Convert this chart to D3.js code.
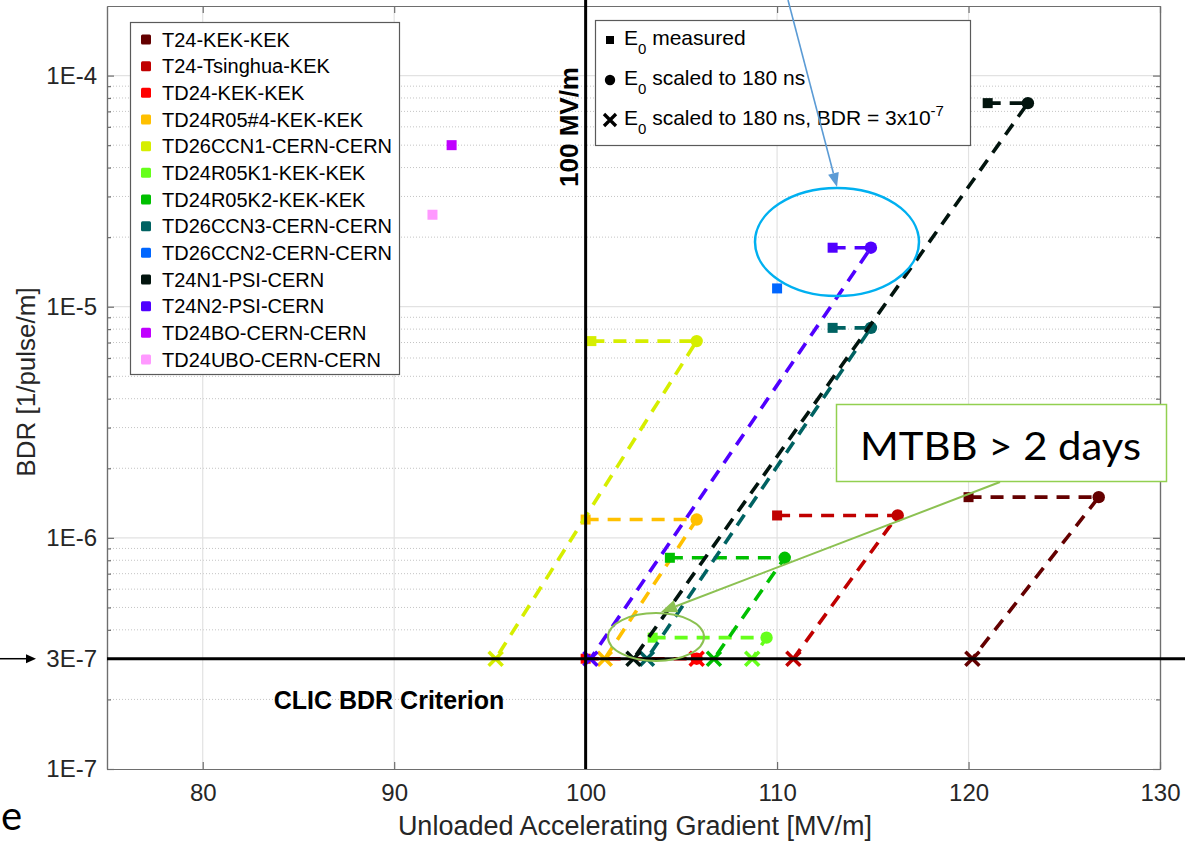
<!DOCTYPE html>
<html><head><meta charset="utf-8">
<script src="https://cdn.jsdelivr.net/npm/d3@7"></script>
<style>
body{margin:0;background:#fff;}
svg{display:block;font-family:"Liberation Sans",Arial,Helvetica,sans-serif;}
</style>
</head><body>
<svg id="c" width="1185" height="843"></svg>
<script>
// ---------------- data ----------------
const names = ["T24-KEK-KEK","T24-Tsinghua-KEK","TD24-KEK-KEK","TD24R05#4-KEK-KEK","TD26CCN1-CERN-CERN",
  "TD24R05K1-KEK-KEK","TD24R05K2-KEK-KEK","TD26CCN3-CERN-CERN","TD26CCN2-CERN-CERN","T24N1-PSI-CERN",
  "T24N2-PSI-CERN","TD24BO-CERN-CERN","TD24UBO-CERN-CERN"];
const colors = ["#640000","#c00000","#ff0000","#ffc000","#d6ee00","#66ff1a","#00c000","#006262",
  "#0066ff","#02140e","#5000ff","#c000ff","#ff99ff"];
const measuredE   = [120.0, 110.0, 100.0, 100.0, 100.3, 103.5, 104.4, 112.9, 110.0, 121.0, 112.9, 93.0, 92.0];
const measuredBDR = [1.5e-6, 1.25e-6, 3e-7, 1.2e-6, 7.1e-6, 3.7e-7, 8.2e-7, 8.1e-6, 1.2e-5, 7.6e-5, 1.8e-5, 5e-5, 2.5e-5];
const scaledE     = [126.8, 116.3, 105.8, 105.8, 105.8, 109.45, 110.4, 114.9, null, 123.1, 114.9, null, null];
const criterionE  = [120.2, 110.85, 105.8, 101.0, 95.3, 108.7, 106.7, 103.2, null, 102.5, 100.25, null, null];
const criterionBDR = 3e-7;
const gradientLine = 100;

const xTicks = [80, 90, 100, 110, 120, 130];
const xGridTicks = [80, 90, 110, 120];
const yTicks = [1e-7, 3e-7, 1e-6, 1e-5, 1e-4];
const yTickLabels = ["1E-7", "3E-7", "1E-6", "1E-5", "1E-4"];
const yMajorGrid = [1e-6, 1e-5, 1e-4];
const markerLegendLabels = [" measured", " scaled to 180 ns", " scaled to 180 ns, BDR = 3x10"];

// ---------------- setup ----------------
const svg = d3.select("#c");
const L = 107, R = 1160, T = 6, B = 769;
const x = d3.scaleLinear().domain([75, 130]).range([L, R]);
const y = d3.scaleLog().domain([1e-7, 2e-4]).range([B, T]);
const axisCol = "#6e6e6e", textCol = "#262626";

const minorVals = [];
for (let e = -7; e <= -4; e++) for (let k = 2; k <= 9; k++) {
  const v = k * Math.pow(10, e);
  if (v < 1.99e-4) minorVals.push(v);
}

// grid
const grid = svg.append("g");
grid.selectAll(".ym").data(minorVals).join("line")
  .attr("x1", L).attr("x2", R).attr("y1", d => y(d)).attr("y2", d => y(d))
  .attr("stroke", "#c4c4c4").attr("stroke-width", 1).attr("stroke-dasharray", "1,2");
grid.selectAll(".yM").data(yMajorGrid).join("line")
  .attr("x1", L).attr("x2", R).attr("y1", d => y(d)).attr("y2", d => y(d))
  .attr("stroke", "#e2e2e2").attr("stroke-width", 1.2);
grid.selectAll(".xg").data(xGridTicks).join("line")
  .attr("x1", d => x(d)).attr("x2", d => x(d)).attr("y1", T).attr("y2", B)
  .attr("stroke", "#e2e2e2").attr("stroke-width", 1.2);

// axes
function styleAxis(g) {
  g.selectAll("path,line").attr("stroke", axisCol).attr("stroke-width", 1.2);
  g.selectAll("text").attr("fill", textCol).attr("font-size", 24).attr("font-family", "Liberation Sans, Arial, sans-serif");
}
svg.append("g").attr("transform", `translate(0,${B})`)
  .call(d3.axisBottom(x).tickValues(xTicks).tickSizeInner(-7).tickSizeOuter(0).tickPadding(15).tickFormat(d3.format("d")))
  .call(styleAxis);
svg.append("g").attr("transform", `translate(0,${T})`)
  .call(d3.axisTop(x).tickValues(xTicks).tickSizeInner(-7).tickSizeOuter(0).tickFormat(""))
  .call(styleAxis);
svg.append("g").attr("transform", `translate(${L},0)`)
  .call(d3.axisLeft(y).tickValues(yTicks).tickSizeInner(-7).tickSizeOuter(0).tickPadding(10)
    .tickFormat((d, i) => yTickLabels[i]))
  .call(styleAxis);
svg.append("g").attr("transform", `translate(${L},0)`)
  .call(d3.axisLeft(y).tickValues(minorVals).tickSizeInner(-4).tickSizeOuter(0).tickFormat(""))
  .call(styleAxis);
svg.append("g").attr("transform", `translate(${R},0)`)
  .call(d3.axisRight(y).tickValues(yTicks).tickSizeInner(-7).tickSizeOuter(0).tickFormat(""))
  .call(styleAxis);
svg.append("g").attr("transform", `translate(${R},0)`)
  .call(d3.axisRight(y).tickValues(minorVals).tickSizeInner(-4).tickSizeOuter(0).tickFormat(""))
  .call(styleAxis);

// axis labels
svg.append("text").attr("x", 635).attr("y", 835).attr("text-anchor", "middle")
  .attr("font-size", 27).attr("fill", textCol).text("Unloaded Accelerating Gradient [MV/m]");
svg.append("text").attr("transform", "translate(35,382) rotate(-90)").attr("text-anchor", "middle")
  .attr("font-size", 26).attr("fill", textCol).text("BDR [1/pulse/m]");

// ---------------- data marks ----------------
const line = d3.line().x(d => x(d[0])).y(d => y(d[1]));
const sq = 10, cr = 6.2, xs = 7;
const data = svg.append("g");
names.forEach((n, i) => {
  const g = data.append("g");
  const c = colors[i];
  if (scaledE[i] != null) {
    const pts = [[measuredE[i], measuredBDR[i]], [scaledE[i], measuredBDR[i]], [criterionE[i], criterionBDR]];
    g.append("path").attr("d", line(pts)).attr("fill", "none").attr("stroke", c)
      .attr("stroke-width", 3.6).attr("stroke-dasharray", "13,9");
  }
  g.append("rect").attr("x", x(measuredE[i]) - sq / 2).attr("y", y(measuredBDR[i]) - sq / 2)
    .attr("width", sq).attr("height", sq).attr("fill", c);
  if (scaledE[i] != null) {
    g.append("circle").attr("cx", x(scaledE[i])).attr("cy", y(measuredBDR[i])).attr("r", cr).attr("fill", c);
    const cx = x(criterionE[i]), cy = y(criterionBDR);
    g.append("path").attr("d", `M${cx - xs},${cy - xs}L${cx + xs},${cy + xs}M${cx - xs},${cy + xs}L${cx + xs},${cy - xs}`)
      .attr("stroke", c).attr("stroke-width", 3.6).attr("fill", "none");
  }
});

// ---------------- legend (series) ----------------
const lg = svg.append("g");
lg.append("rect").attr("x", 130.5).attr("y", 22.5).attr("width", 269).attr("height", 352)
  .attr("fill", "#fff").attr("stroke", "#5a5a5a").attr("stroke-width", 1.2);
names.forEach((n, i) => {
  const cy = 39.5 + i * 26.67;
  lg.append("rect").attr("x", 141).attr("y", cy - 5).attr("width", 10).attr("height", 10)
    .attr("rx", 1.5).attr("fill", colors[i]);
  lg.append("text").attr("x", 162).attr("y", cy + 7).attr("font-size", 20).attr("fill", "#000").text(n);
});

// ---------------- legend (markers) ----------------
const ml = svg.append("g");
ml.append("rect").attr("x", 595.5).attr("y", 20.5).attr("width", 375).attr("height", 125)
  .attr("fill", "#fff").attr("stroke", "#5a5a5a").attr("stroke-width", 1.2);
ml.append("rect").attr("x", 606).attr("y", 36).attr("width", 8).attr("height", 8).attr("fill", "#000");
ml.append("circle").attr("cx", 610).attr("cy", 80).attr("r", 5.2).attr("fill", "#000");
ml.append("path").attr("d", "M604,114L616,126M604,126L616,114").attr("stroke", "#000").attr("stroke-width", 3.3);
markerLegendLabels.forEach((t, i) => {
  const by = 45 + i * 40;
  const tx = ml.append("text").attr("x", 624).attr("y", by).attr("font-size", 21).attr("fill", "#000");
  tx.append("tspan").text("E");
  tx.append("tspan").attr("dy", 9).attr("font-size", 15).text("0");
  tx.append("tspan").attr("dy", -9).text(t);
  if (i === 2) tx.append("tspan").attr("dy", -9).attr("font-size", 15).text("-7");
});

// ---------------- annotations ----------------
const an = svg.append("g");
an.append("line").attr("x1", L).attr("x2", 1185).attr("y1", y(criterionBDR)).attr("y2", y(criterionBDR))
  .attr("stroke", "#000").attr("stroke-width", 3);
an.append("line").attr("x1", x(gradientLine)).attr("x2", x(gradientLine)).attr("y1", 0).attr("y2", B)
  .attr("stroke", "#000").attr("stroke-width", 3);
an.append("text").attr("transform", "translate(578,127) rotate(-90)").attr("text-anchor", "middle")
  .attr("font-size", 26).attr("font-weight", "bold").attr("fill", "#000").text("100 MV/m");
an.append("text").attr("x", 389).attr("y", 709).attr("text-anchor", "middle")
  .attr("font-size", 25).attr("font-weight", "bold").attr("fill", "#000").text("CLIC BDR Criterion");

function arrow(x1, y1, x2, y2, col, w, hl, hw) {
  const a = Math.atan2(y2 - y1, x2 - x1);
  const bx = x2 - hl * Math.cos(a), by = y2 - hl * Math.sin(a);
  an.append("line").attr("x1", x1).attr("y1", y1).attr("x2", bx).attr("y2", by)
    .attr("stroke", col).attr("stroke-width", w);
  const px = Math.sin(a) * hw / 2, py = -Math.cos(a) * hw / 2;
  an.append("path").attr("d", `M${x2},${y2}L${bx + px},${by + py}L${bx - px},${by - py}Z`).attr("fill", col);
}
arrow(0, y(criterionBDR), 36, y(criterionBDR), "#000", 1.5, 10, 9);
an.append("ellipse").attr("cx", 837).attr("cy", 242).attr("rx", 82).attr("ry", 54)
  .attr("fill", "none").attr("stroke", "#00b0f0").attr("stroke-width", 2.5);
arrow(788, 0, 837, 187, "#5b9bd5", 1.6, 14, 11);
an.append("ellipse").attr("cx", 656).attr("cy", 637).attr("rx", 48).attr("ry", 24)
  .attr("fill", "none").attr("stroke", "#8cc152").attr("stroke-width", 2);
an.append("rect").attr("x", 836.5).attr("y", 404.5).attr("width", 330).attr("height", 77)
  .attr("fill", "#fff").attr("stroke", "#92d050").attr("stroke-width", 1.5);
an.append("text").attr("x", 860).attr("y", 460).attr("font-family", "Lato, 'Open Sans', sans-serif")
  .attr("font-size", 38).attr("fill", "#000").attr("textLength", 281).attr("lengthAdjust", "spacingAndGlyphs")
  .text("MTBB > 2 days");
arrow(1000, 482, 661, 612, "#8cc152", 2, 16, 13);
// slide text fragment
svg.append("text").attr("x", 1).attr("y", 830).attr("font-family", "Lato, sans-serif")
  .attr("font-size", 40).attr("fill", "#000").text("e");
</script>
</body></html>
